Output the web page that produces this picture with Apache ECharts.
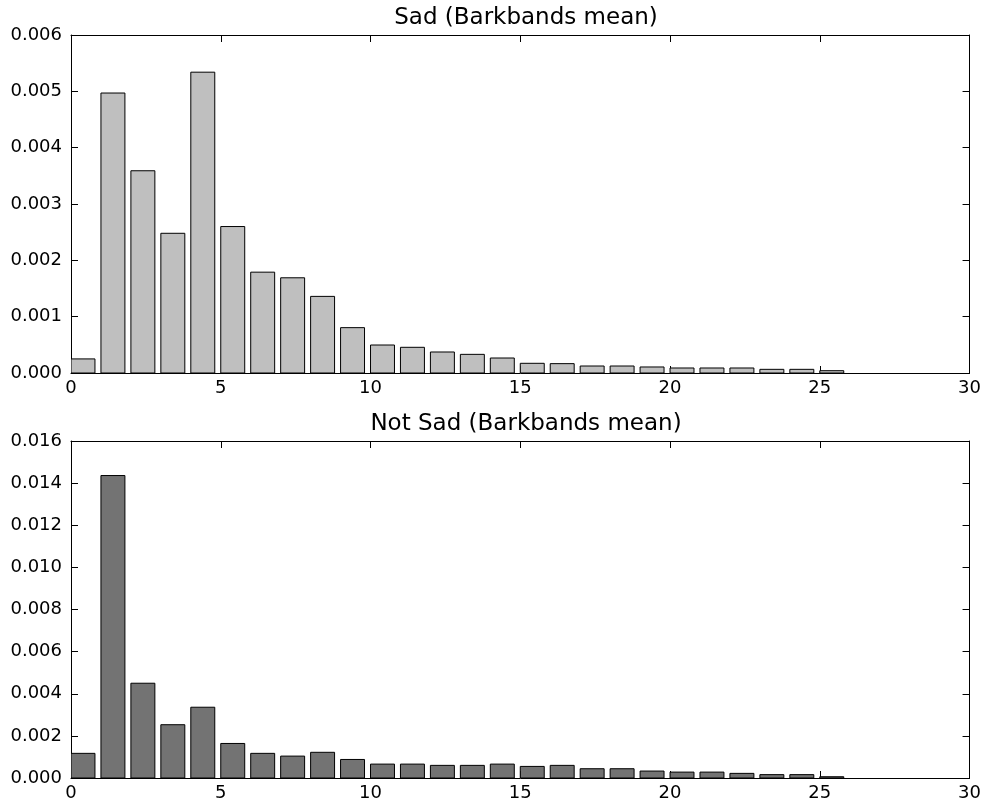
<!DOCTYPE html>
<html>
<head>
<meta charset="utf-8">
<script src="https://cdn.jsdelivr.net/npm/echarts@6/dist/echarts.min.js"></script>
<style>
html,body{margin:0;padding:0;background:#fff;}
#chart{width:984px;height:803px;}
</style>
</head>
<body>
<div id="chart"></div>
<script>
// Data
const bands = [0,1,2,3,4,5,6,7,8,9,10,11,12,13,14,15,16,17,18,19,20,21,22,23,24,25];
const sadValues = [0.00025,0.00497,0.00359,0.00248,0.00534,0.0026,0.00179,0.00169,0.00136,0.000805,0.000497,
  0.000456,0.000373,0.000331,0.000266,0.000172,0.000166,0.000124,0.000124,0.000107,0.000089,0.000089,0.000089,0.000065,0.000065,0.000041];
const notSadValues = [0.00117,0.01436,0.0045,0.00253,0.00336,0.00164,0.00117,0.00104,0.00122,0.00088,0.00066,
  0.00066,0.0006,0.0006,0.00066,0.00055,0.0006,0.00044,0.00044,0.00033,0.00028,0.00028,0.00022,0.00016,0.00016,0.00006];
const titles = ['Sad (Barkbands mean)', 'Not Sad (Barkbands mean)'];
const xTicks = [0,5,10,15,20,25,30];
const barWidthUnits = 0.8;

const font = 'DejaVu Sans';
const chart = echarts.init(document.getElementById('chart'));

function makeRender(color) {
  return function (params, api) {
    const x = api.value(0);
    const v = api.value(1);
    const p0 = api.coord([x, 0]);
    const p1 = api.coord([x + barWidthUnits, v]);
    return {
      type: 'rect',
      shape: { x: p0[0], y: p1[1], width: p1[0] - p0[0], height: p0[1] - p1[1] },
      style: { fill: color, stroke: '#000', lineWidth: 1 }
    };
  };
}

const grids = [
  { left: 71, right: 12, top: 35, height: 338 },
  { left: 71, right: 12, top: 441, height: 337 }
];
const yMax = [0.006, 0.016];
const yInt = [0.001, 0.002];
const yDec = [3, 3];

const xAxes = [], yAxes = [];
for (let g = 0; g < 2; g++) {
  const common = {
    gridIndex: g, type: 'value', min: xTicks[0], max: xTicks[xTicks.length - 1], interval: 5,
    axisLine: { show: true, onZero: false, lineStyle: { color: '#000', width: 1 } },
    axisTick: { show: true, inside: true, length: 7, lineStyle: { color: '#000' } },
    splitLine: { show: false }
  };
  xAxes.push(Object.assign({}, common, { position: 'bottom',
    axisLabel: { show: true, fontFamily: font, fontSize: 18, color: '#000', margin: 6,
      formatter: v => String(v) } }));
  xAxes.push(Object.assign({}, common, { position: 'top', axisLabel: { show: false } }));
  const ycommon = {
    gridIndex: g, type: 'value', min: 0, max: yMax[g], interval: yInt[g],
    axisLine: { show: true, onZero: false, lineStyle: { color: '#000', width: 1 } },
    axisTick: { show: true, inside: true, length: 7, lineStyle: { color: '#000' } },
    splitLine: { show: false }
  };
  yAxes.push(Object.assign({}, ycommon, { position: 'left',
    axisLabel: { show: true, fontFamily: font, fontSize: 18, color: '#000', margin: 9,
      formatter: v => v.toFixed(yDec[g]) } }));
  yAxes.push(Object.assign({}, ycommon, { position: 'right', axisLabel: { show: false } }));
}

const series = [
  { type: 'custom', xAxisIndex: 0, yAxisIndex: 0, renderItem: makeRender('#bfbfbf'),
    data: bands.map((b, i) => [b, sadValues[i]]), encode: { x: 0, y: 1 }, clip: true },
  { type: 'custom', xAxisIndex: 2, yAxisIndex: 2, renderItem: makeRender('#737373'),
    data: bands.map((b, i) => [b, notSadValues[i]]), encode: { x: 0, y: 1 }, clip: true }
];

chart.setOption({
  animation: false,
  backgroundColor: '#fff',
  title: [
    { text: titles[0], left: 521, top: 2, textAlign: 'center',
      textStyle: { fontFamily: font, fontSize: 23, fontWeight: 'normal', color: '#000' } },
    { text: titles[1], left: 521, top: 408, textAlign: 'center',
      textStyle: { fontFamily: font, fontSize: 23, fontWeight: 'normal', color: '#000' } }
  ],
  grid: grids,
  xAxis: xAxes,
  yAxis: yAxes,
  series: series
});
</script>
</body>
</html>
